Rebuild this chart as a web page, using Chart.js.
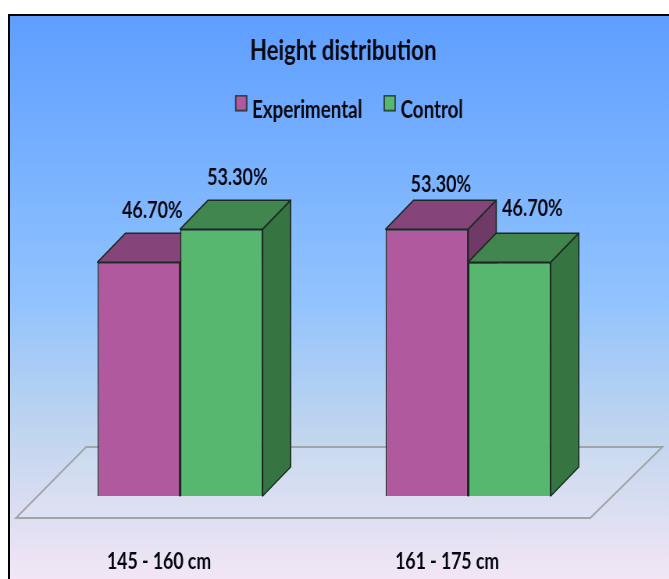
<!DOCTYPE html>
<html>
<head>
<meta charset="utf-8">
<title>Height distribution</title>
<script src="https://cdn.jsdelivr.net/npm/chart.js@4"></script>
<style>
  html, body { margin: 0; background: #fff; overflow: hidden; }
  #frame {
    position: absolute; left: 8px; top: 14px; width: 661px; height: 565px;
    box-sizing: border-box; border-left: 2px solid #000; border-top: 2px solid #000;
    background: linear-gradient(to bottom, #5e9eff 0%, #8fc2fe 49%, #c0d5ee 74%, #f3e6f5 100%);
  }
  /* the original picture is squeezed sideways, so the whole canvas is too */
  #wrap {
    position: absolute; left: 0; top: 0; width: 857.7px; height: 579px;
    transform: scaleX(0.78); transform-origin: 0 0;
  }
</style>
</head>
<body>
<div id="frame"></div>
<div id="wrap"><canvas id="heightChart"></canvas></div>
<script>
const categories = ['145 - 160 cm', '161 - 175 cm'];
const experimental = [46.7, 53.3];
const control = [53.3, 46.7];

const SQUEEZE = 0.78;
const FONT = 'Lato, sans-serif';
const INK = '#05070f';
const EDGE = '#1d2a22';
const DEPTH_X = 28 / SQUEEZE;
const DEPTH_Y = 29;

// label shift from the bar's top centre, the original placed these by hand
// first index is the category, second the series
const labelShift = [
    [[13.5, -52], [16, -52]],
    [[14, -45], [23, -54]]
];

function poly(ctx, pts, fill) {
    ctx.beginPath();
    pts.forEach((p, i) => i ? ctx.lineTo(p[0], p[1]) : ctx.moveTo(p[0], p[1]));
    ctx.closePath();
    ctx.fillStyle = fill;
    ctx.fill();
    ctx.stroke();
}

// legend swatch sits up and close to its text, so the box goes in a corner of a bigger image
function legendSwatch(color) {
    const img = document.createElement('canvas');
    img.width = 28;
    img.height = 31;
    const c = img.getContext('2d');
    c.fillStyle = color;
    c.strokeStyle = EDGE;
    c.lineWidth = 1.5;
    c.fillRect(13, 1, 14, 15);
    c.strokeRect(13, 1, 14, 15);
    return img;
}

// floor plane, then top and side faces of each bar; the library draws the fronts over them
const solidPlugin = {
    id: 'solid',
    beforeDatasetsDraw(chart) {
        const { ctx, chartArea: a, scales: { y } } = chart;
        const base = y.getPixelForValue(0);
        ctx.save();
        ctx.strokeStyle = '#a0a5a8';
        ctx.lineWidth = 2;
        poly(ctx, [
            [a.left - 20 / SQUEEZE, base + 22],
            [a.right - 22 / SQUEEZE, base + 22],
            [a.right + 50 / SQUEEZE, base - 49],
            [a.left + 50 / SQUEEZE, base - 49]
        ], 'rgba(255,255,255,0.08)');

        ctx.strokeStyle = EDGE;
        ctx.lineWidth = 1.6;
        ctx.lineJoin = 'round';
        chart.data.datasets.forEach((ds, i) => {
            chart.getDatasetMeta(i).data.forEach(bar => {
                const l = bar.x - bar.width / 2;
                const r = bar.x + bar.width / 2;
                const t = bar.y;
                const b = bar.base;
                poly(ctx, [[r, t], [r + DEPTH_X, t - DEPTH_Y], [r + DEPTH_X, b - DEPTH_Y], [r, b]], ds.sideColor);
                poly(ctx, [[l, t], [l + DEPTH_X, t - DEPTH_Y], [r + DEPTH_X, t - DEPTH_Y], [r, t]], ds.topColor);
            });
        });
        ctx.restore();
    }
};

const valueLabelPlugin = {
    id: 'valueLabels',
    afterDatasetsDraw(chart) {
        const { ctx } = chart;
        ctx.save();
        ctx.font = 'bold 23px ' + FONT;
        ctx.fillStyle = INK;
        ctx.textAlign = 'center';
        ctx.textBaseline = 'middle';
        chart.data.datasets.forEach((ds, i) => {
            chart.getDatasetMeta(i).data.forEach((bar, j) => {
                const s = labelShift[j][i];
                ctx.fillText(ds.data[j].toFixed(2) + '%', bar.x + s[0] / SQUEEZE, bar.y + s[1]);
            });
        });
        ctx.restore();
    }
};

// title and legend are off the plot's centre in the original
const headerShiftPlugin = {
    id: 'headerShift',
    afterLayout(chart) {
        chart.titleBlock.left += 19 / SQUEEZE;
        chart.titleBlock.right += 19 / SQUEEZE;
        chart.legend.left += 22.5 / SQUEEZE;
        chart.legend.right += 22.5 / SQUEEZE;
    }
};

new Chart(document.getElementById('heightChart'), {
    type: 'bar',
    data: {
        labels: categories,
        datasets: [
            {
                label: 'Experimental',
                data: experimental,
                backgroundColor: '#b0599e',
                topColor: '#85457b',
                sideColor: '#6f3a66',
                borderColor: EDGE,
                borderWidth: 1.6
            },
            {
                label: 'Control',
                data: control,
                backgroundColor: '#57b76f',
                topColor: '#41854f',
                sideColor: '#367442',
                borderColor: EDGE,
                borderWidth: 1.6
            }
        ]
    },
    options: {
        responsive: true,
        maintainAspectRatio: false,
        animation: false,
        layout: { padding: { left: 36 / SQUEEZE, right: 57.5 / SQUEEZE, top: 0, bottom: 6 } },
        datasets: { bar: { categoryPercentage: 0.573, barPercentage: 1 } },
        scales: {
            x: {
                grid: { display: false, drawTicks: false },
                border: { display: false },
                afterFit(scale) { scale.height = 77; },
                ticks: {
                    color: INK,
                    padding: 52,
                    labelOffset: -21 / SQUEEZE,
                    maxRotation: 0,
                    font: { family: FONT, size: 22.6, weight: 'bold' }
                }
            },
            y: { display: false, min: 0, max: 72.7 }
        },
        plugins: {
            title: {
                display: true,
                text: 'Height distribution',
                color: INK,
                padding: { top: 34, bottom: 9 },
                font: { family: FONT, size: 28.4, weight: 'bold', lineHeight: 1.2 }
            },
            legend: {
                position: 'top',
                labels: {
                    color: INK,
                    usePointStyle: true,
                    boxWidth: 16,
                    padding: 21,
                    font: { family: FONT, size: 24, weight: 'bold' },
                    generateLabels(chart) {
                        const items = Chart.defaults.plugins.legend.labels.generateLabels(chart);
                        return items.map((item, i) => ({
                            ...item,
                            pointStyle: legendSwatch(chart.data.datasets[i].backgroundColor)
                        }));
                    }
                }
            },
            tooltip: { enabled: false }
        }
    },
    plugins: [solidPlugin, valueLabelPlugin, headerShiftPlugin]
});
</script>
</body>
</html>
